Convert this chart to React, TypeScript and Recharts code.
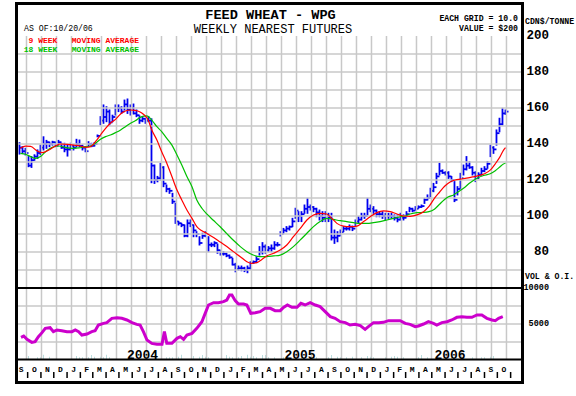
import React from "react";
import {
  ComposedChart,
  Bar,
  Line,
  XAxis,
  YAxis,
  ReferenceLine,
} from "recharts";

const FONT = '"Liberation Mono", "Courier New", monospace';
const BLUE = "#0000f0";
const RED = "#ff0000";
const GREEN = "#00c000";
const MAGENTA = "#cc00cc";
const TEAL = "#008080";
const GRID = "#c8c8c8";

// weekly nearest futures, week 0 = 2003-09-12, week 162 = 2006-10-20
const highs = [
  140.7, 138.5, 137.6, 133, 133, 134, 136.7, 139.4, 144, 142,
  141, 141.5, 141, 142, 140.4, 140.4, 139.4, 140.4, 139.4, 142.6,
  142.2, 139.4, 138.5, 141.3, 140.4, 140.8, 145, 155.2, 161.7, 160.7,
  158.9, 156, 161.7, 161.7, 160.7, 164.4, 165, 161.7, 162.2, 158.9,
  155.6, 155.2, 154.3, 155.2, 154, 128.3, 122, 129.3, 127.4, 117.2,
  115.4, 112.6, 107, 97, 95.9, 95, 97.8, 97.8, 95, 91.3,
  88.5, 90.4, 91.3, 88.5, 85, 85.7, 84.4, 80.5, 80.2, 79.3,
  78.3, 76.5, 73.7, 72.2, 72.2, 71.5, 72.2, 74.6, 75, 77.4,
  83, 85.2, 83.9, 83, 83.9, 85.7, 85.2, 91.3, 93.1, 94.1,
  94.4, 98.7, 104.3, 102.4, 102.4, 106.1, 109.8, 106.1, 105.2, 104.3,
  103.3, 102.4, 102.4, 101.5, 101.5, 92.2, 91.3, 92.2, 94.1, 94.1,
  95, 94.4, 97.8, 99.6, 101.5, 101.5, 109.8, 106.1, 105.2, 103.3,
  102.4, 102.4, 101.5, 101.5, 101.5, 100.6, 100.6, 101.5, 100.6, 102.4,
  104.8, 104.3, 105.2, 105.6, 106.1, 109.8, 111.7, 115.4, 118.1, 123.7,
  129.3, 125.6, 124.6, 124.6, 121.9, 119.1, 116.3, 123.7, 128.3, 133,
  130.2, 127.4, 124.6, 124, 126.5, 127.4, 130.2, 139.4, 138.5, 147.8,
  154.3, 159.8, 158.9,
];
const lows = [
  134.4, 134.8, 133.9, 127.4, 127, 131, 132, 134, 136.7, 137.6,
  138.5, 139.4, 138.5, 140, 137.6, 135.7, 133.3, 136.7, 136.7, 138.5,
  138.5, 136.7, 135.7, 138.5, 138.5, 138.9, 144, 150.6, 151.5, 152.4,
  150.6, 152.4, 156.1, 158, 157, 158.9, 157, 156.1, 156.7, 155.2,
  151.5, 152.4, 151.5, 152.4, 118.5, 118.1, 119, 120, 116.3, 113.5,
  112.6, 107, 95.9, 95, 94.1, 88.5, 88.5, 94.1, 88.5, 88.5,
  83.9, 87.6, 88.5, 80.2, 83, 83, 79.3, 78.3, 78.3, 77.4,
  76.5, 72.8, 69, 70, 69.6, 69.1, 68.5, 70.4, 73.7, 74.1,
  78.3, 78.9, 79.3, 80.2, 80.2, 81.5, 83.3, 88.9, 90.4, 91.3,
  92.2, 94.1, 98.7, 96.9, 96.9, 101.5, 101.5, 103.3, 102.4, 99.6,
  97.8, 96.9, 96.9, 96.9, 86.7, 84.8, 85.7, 89.4, 91.3, 92.2,
  92.2, 91.9, 94.1, 95.9, 97.8, 98.7, 100.6, 102.4, 101.5, 99.6,
  99.6, 98.7, 97.8, 98.7, 98.7, 97.8, 96.8, 97.8, 97.8, 99.6,
  102.4, 102.4, 103.3, 104.3, 104.8, 107, 108.9, 110.7, 113.5, 118.1,
  122.8, 123.7, 122.8, 120.9, 119.1, 108, 111.7, 115.4, 122.8, 125.6,
  126.5, 122.8, 119.1, 120.9, 122.8, 124.6, 126.5, 133, 134.8, 139.4,
  146.8, 150.6, 156.5,
];
const closes = [
  138, 136, 135, 128, 131, 133, 135, 138, 140, 141,
  140, 141, 139, 141, 138, 137, 137, 139, 138, 140,
  139, 138, 136, 140, 139, 140, 144.5, 153, 155, 158,
  152, 155, 160, 160, 158, 162, 159, 160, 157, 156,
  153, 154, 153, 153, 128, 120, 121, 127, 118, 115,
  114, 108, 97, 96, 95, 89, 96, 95, 92, 90,
  85, 89, 90, 84, 84, 85, 81, 79, 79, 78,
  77, 73, 70.5, 71, 71, 70, 71, 74, 74.5, 76,
  80, 83, 81, 82, 82, 84, 84, 90, 92, 93,
  94, 97, 103, 100, 101, 104, 105, 105, 104, 102,
  100, 99, 100, 99, 88, 88, 89, 91, 93, 93,
  94, 93, 97, 98, 100, 100, 104, 104, 103, 101,
  101, 100, 100, 100, 100, 99, 98, 99, 99, 101,
  104, 103, 104, 105, 105.5, 109, 110, 114, 116, 122,
  125, 124, 124, 122, 120, 109, 115, 121, 126, 128,
  127, 124, 121, 123, 125, 126, 129, 138, 137, 146,
  151, 157, 158,
];

// 9 week moving average
const ma9Weeks = [
  0.3, 2, 3.7, 5.9, 7.6, 9.8, 12, 13.7, 15.9, 18.1, 20.3, 22, 23.7, 25.3, 27,
  28.7, 30.3, 32, 33.7, 35.3, 37, 38.5, 40.2, 41.2, 42.9, 44.1, 45.8, 47.4,
  49.1, 50.8, 52.5, 54.1, 55.8, 57.5, 59.1, 60.8, 62.5, 64.7, 66.9, 69.1,
  71.3, 73.6, 75.8, 77.4, 79.1, 80.8, 82.4, 84.7, 86.9, 89.1, 91.3, 93.6,
  95.8, 98, 100.2, 102.4, 104.1, 105.8, 108, 110.2, 112.5, 114.7, 116.9,
  119.1, 121.3, 123.6, 125.8, 128, 130.2, 132.5, 134.7, 136.5, 138.3, 140,
  141.7, 143.4, 145.2, 147, 149, 151, 153, 155, 157, 158.6, 160.2, 161.3, 162,
];
const ma9Values = [
  137.6, 138.8, 138.7, 136.1, 135.2, 136.7, 138.9, 140, 139.8, 139.4, 138.9,
  138.1, 138.5, 141.3, 145, 148.7, 151.5, 153.7, 156.7, 158.3, 158.9, 158.7,
  157.8, 156.7, 153.3, 147.8, 142.2, 135.7, 129.3, 121.9, 114.4, 108.9, 103.3,
  98.7, 94.1, 91.8, 90.3, 88, 85.5, 83, 80.2, 77.4, 74.6, 73.7, 74.1, 75.9,
  77.8, 79.3, 81.1, 83.9, 88.5, 93.1, 97.8, 100.6, 101.5, 101.1, 98.7, 95.9,
  94.4, 94.1, 94.4, 96.9, 99.6, 101.9, 102.8, 102.4, 101.1, 100, 99.8, 100.6,
  102.4, 105.3, 109.8, 113.2, 116.5, 118.8, 120, 120.5, 121, 121.7, 122.4,
  123.5, 125.6, 129, 133, 136.5, 138,
];

// 18 week moving average
const ma18Weeks = [
  0.3, 2, 3.7, 5.3, 7, 8.7, 10.9, 13.1, 15.3, 17.6, 19.8, 22, 23.7, 25.3, 27,
  28.7, 30.3, 32, 33.7, 35.3, 37, 38.7, 40.2, 42.5, 44.1, 45.8, 47.4, 49.1,
  50.8, 52.5, 54.1, 55.8, 57.5, 59.1, 60.8, 62.5, 64.7, 66.9, 69.1, 71.3,
  73.6, 75.8, 77.9, 80.1, 82.4, 84.7, 86.9, 89.1, 91.3, 93.6, 95.8, 98,
  100.2, 102.4, 104.6, 106.9, 109.1, 111.3, 113.6, 115.8, 118, 120.2, 122.5,
  124.7, 126.9, 128.5, 130.2, 132.5, 134.7, 136.5, 138.3, 140, 141.5, 143,
  144.7, 146.3, 148, 150.2, 152.5, 154.7, 156.9, 158.6, 160.2, 161.3, 162,
];
const ma18Values = [
  134.8, 134.3, 133, 132, 133, 135.7, 138.1, 138.9, 138.1, 137.6, 137.8,
  138.5, 138.9, 140.4, 142.6, 144.1, 145, 146.3, 147.8, 149.6, 151.5, 153,
  154.8, 155.6, 153.3, 149.6, 146.9, 143.1, 139.4, 133.9, 128.3, 121.9, 116.3,
  108.9, 104.3, 101, 97.5, 94, 90.2, 86.5, 83, 80.2, 78.3, 77.4, 77.4, 77.8,
  78.3, 80.2, 83, 86.7, 90.4, 94.1, 96.9, 98.7, 98.1, 97.4, 96.9, 96.3, 95.9,
  95.9, 96.3, 96.9, 97.8, 98.7, 99.6, 100, 101.1, 101.9, 102, 102.4, 103.8,
  106.5, 108.9, 110.7, 111.7, 113.5, 115.4, 118.5, 121, 122.5, 123.5, 125.2,
  127.4, 128.9, 129.3,
];

// open interest, lower panel
const oiWeeks = [
  0.5, 1.4, 2.5, 4.1, 5.2, 6.3, 7.5, 8.6, 10.2, 11.3, 12.5, 14.1, 15.8, 17.5,
  18.6, 19.7, 20.8, 22.5, 24.1, 25.2, 26.3, 28, 29.1, 30.8, 32.5, 34.1, 35.8,
  37.5, 39.1, 40.2, 41.3, 42.5, 44.1, 45.8, 47.5, 48.3, 49.1, 50.8, 52.5,
  53.6, 54.7, 55.8, 57.5, 59.1, 60.8, 61.9, 63, 64.7, 66.3, 68, 69.1, 70,
  70.8, 71.9, 73, 74.7, 75.8, 77.1, 78.6, 80.2, 81.9, 83.6, 85.2, 86.9, 88,
  89.3, 90.8, 92.5, 93.8, 95.2, 96.9, 98.6, 100.2, 101.9, 103.6, 105.2,
  106.9, 108.6, 110.2, 111.9, 113.6, 115.2, 116.3, 118, 119.7, 121.3, 123,
  124.7, 126.9, 128.6, 130.2, 131.9, 133, 134.7, 136.3, 138, 139.1, 140.8,
  142.5, 144.1, 145.8, 147.5, 149.1, 150.8, 152.5, 154.1, 155.8, 157.5,
  158.6, 159.7, 161.1,
];
const oiValues = [
  3150, 3330, 2870, 2450, 2550, 3240, 3800, 4400, 4490, 3940, 4170, 4070,
  3940, 3940, 4170, 3940, 3470, 3610, 3940, 4070, 4860, 5090, 5190, 5790,
  5880, 5790, 5560, 5190, 4950, 4860, 3940, 2780, 2310, 2180, 2180, 3940,
  2310, 2310, 3010, 3240, 2870, 3470, 3700, 4400, 5320, 6480, 7640, 7960,
  7960, 8100, 8330, 9030, 9030, 8240, 7780, 7780, 7640, 6480, 6570, 6710,
  7180, 7180, 6850, 6850, 7310, 7640, 7310, 7310, 7870, 7640, 7960, 7640,
  7410, 6710, 6020, 5790, 5320, 5190, 4860, 4950, 4770, 4260, 4630, 5190,
  5190, 5230, 5460, 5460, 5460, 5090, 4950, 4630, 4720, 5000, 5320, 5090,
  4860, 5190, 5320, 5560, 5930, 6020, 5930, 5930, 6250, 6250, 5790, 5560,
  5460, 5790, 6020,
];

// weekly volume, lower panel
const volumes = [
  140, 0, 0, 555, 0, 140, 370, 370, 740, 0, 460, 140, 140, 140, 0, 0, 140,
  140, 0, 555, 370, 370, 0, 370, 690, 460, 0, 460, 370, 740, 370, 0, 140, 140,
  0, 140, 0, 0, 0, 0, 0, 0, 0, 0, 0, 0, 0, 0, 0, 370, 370, 370, 0, 460, 740,
  0, 140, 140, 555, 0, 460, 690, 460, 370, 0, 140, 140, 0, 140, 690, 460, 370,
  0, 370, 555, 0, 740, 460, 555, 370, 0, 690, 690, 370, 0, 370, 140, 0, 370,
  0, 140, 0, 460, 0, 370, 140, 0, 370, 0, 370, 140, 0, 140, 370, 690, 0, 460,
  370, 0, 370, 140, 460, 0, 140, 370, 0, 555, 460, 370, 0, 140, 0, 370, 0,
  460, 555, 460, 0, 370, 0, 0, 0, 0, 370, 690, 0, 370, 0, 140, 370, 140, 0,
  370, 0, 370, 0, 0, 0, 0, 0, 0, 370, 140, 0, 370, 370, 0, 460, 555, 0, 140,
  140, 140,
];

// Sep 2003 .. Oct 2006
const monthLetters = [
  "S", "O", "N", "D", "J", "F", "M", "A", "M", "J", "J", "A",
  "S", "O", "N", "D", "J", "F", "M", "A", "M", "J", "J", "A",
  "S", "O", "N", "D", "J", "F", "M", "A", "M", "J", "J", "A",
  "S", "O",
];
const yearLabels = ["2004", "2005", "2006"];
const yearWeeks = [41, 93.5, 143.5];
const priceTicks = [80, 100, 120, 140, 160, 180, 200];
const priceGrid = [70, 80, 90, 100, 110, 120, 130, 140, 150, 160, 170, 180, 190];
const volTicks = [5000, 10000];
const volGrid = [2500, 5000, 7500];

const WEEK_MS = 7 * 86400000;
const START = Date.UTC(2003, 8, 12);
const monthStart = (k: number) => (Date.UTC(2003, 8 + k, 1) - START) / WEEK_MS;
const monthTicks = monthLetters.map((_, k) => monthStart(k + 1));
const monthMids = monthLetters.map((_, k) => (monthStart(k) + monthStart(k + 1)) / 2);
const gridWeeks = Array.from({ length: 33 }, (_, k) => 2.33 + 5 * k);
const X_DOMAIN: [number, number] = [-0.5, 167.17];

const weekly = highs.map((h, i) => ({ w: i, h, l: lows[i], c: closes[i], vol: volumes[i] }));
const ma9 = ma9Weeks.map((w, i) => ({ w, v: ma9Values[i] }));
const ma18 = ma18Weeks.map((w, i) => ({ w, v: ma18Values[i] }));
const oi = oiWeeks.map((w, i) => ({ w, v: oiValues[i] }));

function OhlcBar(props: any) {
  const { x, y, width, height, payload } = props;
  if (x == null || y == null || !payload) return null;
  const top = height < 0 ? y + height : y;
  const len = Math.abs(height);
  const cx = x + width / 2;
  const span = payload.h - payload.l;
  const yc = top + (span > 0 ? (len * (payload.h - payload.c)) / span : 0);
  return (
    <g>
      <line x1={cx} x2={cx} y1={top - 0.5} y2={top + len + 0.5} stroke={BLUE} strokeWidth={1.8} />
      <line x1={cx} x2={cx + 3} y1={yc} y2={yc} stroke={BLUE} strokeWidth={1.8} />
    </g>
  );
}

function RightTick(props: any) {
  const { x, y, payload, size } = props;
  return (
    <text x={x} y={y} textAnchor="end" dominantBaseline="central" fontFamily={FONT}
      fontWeight={700} fontSize={size} fill="#000">
      {payload.value}
    </text>
  );
}

function MonthTick(props: any) {
  const { x, y, payload } = props;
  const k = monthMids.indexOf(payload.value);
  return (
    <text x={x} y={y + 9.5} textAnchor="middle" dominantBaseline="central" fontFamily={FONT}
      fontWeight={700} fontSize={8} fill="#000">
      {monthLetters[k]}
    </text>
  );
}

function Txt({ x, y, size, children, anchor = "start", weight = 700, color = "#000" }: any) {
  return (
    <text x={x} y={y} fontFamily={FONT} fontSize={size} fontWeight={weight} fill={color}
      textAnchor={anchor} style={{ whiteSpace: "pre" }} xmlSpace="preserve">
      {children}
    </text>
  );
}

export default function App() {
  return (
    <div style={{ position: "absolute", left: 0, top: 0, width: 576, height: 396, background: "#fff" }}>
      <div style={{ position: "absolute", left: 0, top: 0 }}>
        <ComposedChart width={576} height={300} data={weekly}
          margin={{ top: 36, right: 15, bottom: 12, left: 18 }}>
          <XAxis dataKey="w" type="number" domain={X_DOMAIN} allowDataOverflow hide />
          <YAxis orientation="right" domain={[60, 200]} ticks={priceTicks} width={40}
            axisLine={false} tickLine={false} tickSize={0} tickMargin={28} interval={0}
            tick={<RightTick size={12.5} />} allowDataOverflow />
          {gridWeeks.map((g) => (
            <ReferenceLine key={"v" + g} x={g} stroke={GRID} strokeWidth={1.5} />
          ))}
          {priceGrid.map((g) => (
            <ReferenceLine key={"h" + g} y={g} stroke={GRID} strokeWidth={1.5} />
          ))}
          <Bar dataKey={(d: any) => [d.l, d.h]} barSize={2} shape={<OhlcBar />}
            isAnimationActive={false} />
          <Line data={ma18} dataKey="v" type="monotone" stroke={GREEN} strokeWidth={1.2}
            dot={false} activeDot={false} isAnimationActive={false} />
          <Line data={ma9} dataKey="v" type="monotone" stroke={RED} strokeWidth={1.2}
            dot={false} activeDot={false} isAnimationActive={false} />
        </ComposedChart>
      </div>
      <div style={{ position: "absolute", left: 0, top: 280 }}>
        <ComposedChart width={576} height={116} data={weekly}
          margin={{ top: 8, right: 15, bottom: 18, left: 18 }}>
          <XAxis xAxisId="ms" dataKey="w" type="number" domain={X_DOMAIN} allowDataOverflow
            ticks={monthTicks} interval={0} height={6} axisLine={false}
            tickLine={{ stroke: "#000", strokeWidth: 1.5 }} tickSize={6}
            tick={() => <g />} />
          <XAxis xAxisId="mc" dataKey="w" type="number" domain={X_DOMAIN} allowDataOverflow
            ticks={monthMids} interval={0} height={12} axisLine={false} tickLine={false}
            tickSize={0} tickMargin={0} tick={<MonthTick />} />
          <YAxis orientation="right" domain={[0, 10000]} ticks={volTicks} width={40}
            axisLine={false} tickLine={false} tickSize={0} tickMargin={28} interval={0}
            tick={<RightTick size={8.5} />} allowDataOverflow />
          {gridWeeks.map((g) => (
            <ReferenceLine key={"v" + g} xAxisId="ms" x={g} stroke={GRID} strokeWidth={1.5} />
          ))}
          {volGrid.map((g) => (
            <ReferenceLine key={"h" + g} xAxisId="ms" y={g} stroke={GRID} strokeWidth={1.5} />
          ))}
          <Bar xAxisId="ms" dataKey="vol" barSize={1} fill={TEAL} isAnimationActive={false} />
          <Line xAxisId="ms" data={oi} dataKey="v" type="linear" stroke={MAGENTA} strokeWidth={3}
            dot={false} activeDot={false} isAnimationActive={false} />
          {yearLabels.map((yl, k) => (
            <ReferenceLine key={yl} xAxisId="ms" x={yearWeeks[k]} stroke="none"
              label={{ value: yl, position: "insideBottom", offset: 1, fill: "#000",
                fontSize: 13, fontWeight: 700, fontFamily: FONT }} />
          ))}
        </ComposedChart>
      </div>
      <svg width={576} height={396} style={{ position: "absolute", left: 0, top: 0, pointerEvents: "none" }}>
        <rect x={16.5} y={3.5} width={506} height={379} fill="none" stroke="#000" strokeWidth={3} />
        <line x1={18} x2={521} y1={288} y2={288} stroke="#000" strokeWidth={2} />
        <line x1={18} x2={521} y1={359.5} y2={359.5} stroke="#000" strokeWidth={2} />
        <Txt x={270.5} y={19} size={13.6} anchor="middle">FEED WHEAT - WPG</Txt>
        <Txt x={273} y={33} size={12} anchor="middle" weight={400}>WEEKLY NEAREST FUTURES</Txt>
        <Txt x={24} y={31} size={8.2} weight={400}>AS OF:10/20/06</Txt>
        <Txt x={518} y={21} size={8.2} anchor="end">EACH GRID = 10.0</Txt>
        <Txt x={518} y={31} size={8.2} anchor="end">VALUE = $200</Txt>
        <Txt x={525} y={24} size={8.2}>CDN$/TONNE</Txt>
        <Txt x={19} y={43} size={8} color={RED}>{"  9 WEEK   MOVING AVERAGE"}</Txt>
        <Txt x={19} y={52} size={8} color={GREEN}>{" 18 WEEK   MOVING AVERAGE"}</Txt>
        <Txt x={525} y={279} size={8.2}>VOL &amp; O.I.</Txt>
      </svg>
    </div>
  );
}
